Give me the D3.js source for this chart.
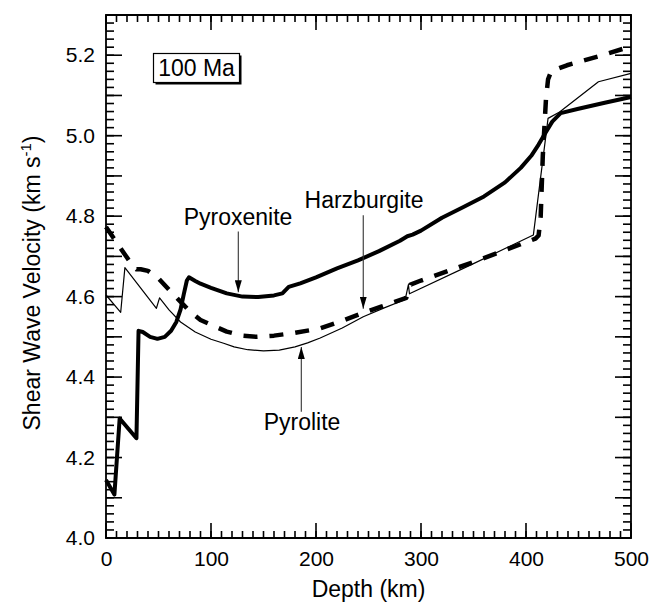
<!DOCTYPE html>
<html>
<head>
<meta charset="utf-8">
<script src="https://cdn.jsdelivr.net/npm/d3@7"></script>
<style>
  body { margin: 0; background: #fff; }
  svg { font-family: "Liberation Sans", Arial, Helvetica, sans-serif; }
</style>
</head>
<body>
<div id="chart"></div>
<script>
const width = 663;
const height = 604;
const margin = {top: 15, right: 32, bottom: 66, left: 106};

// [depth km, Vs km/s]
const pyroxenite = [
  [0, 4.144], [8, 4.108], [13, 4.297], [29, 4.248], [31, 4.515], [35, 4.512],
  [42, 4.500], [49, 4.495], [56, 4.500], [62, 4.515], [67, 4.537], [71, 4.568],
  [74, 4.605], [77, 4.640], [79, 4.648], [85, 4.639], [90, 4.632], [100, 4.622],
  [115, 4.608], [130, 4.600], [145, 4.599], [160, 4.603], [168, 4.608], [174, 4.624],
  [185, 4.633], [200, 4.648], [220, 4.670], [240, 4.690], [260, 4.713], [280, 4.739],
  [287, 4.750], [292, 4.754], [300, 4.764], [320, 4.796], [340, 4.822], [360, 4.849],
  [380, 4.884], [395, 4.920], [405, 4.950], [412, 4.978], [418, 5.005], [425, 5.035],
  [433, 5.056], [450, 5.067], [475, 5.082], [500, 5.096]
];

const harzburgite = [
  [0, 4.773], [10, 4.735], [20, 4.697], [26, 4.675], [29, 4.668], [33, 4.668],
  [40, 4.664], [50, 4.645], [60, 4.617], [70, 4.590], [80, 4.563], [90, 4.542],
  [100, 4.530], [115, 4.513], [130, 4.503], [143, 4.500], [160, 4.503], [180, 4.510],
  [204, 4.521], [225, 4.540], [245, 4.560], [262, 4.575], [275, 4.587], [286, 4.597],
  [290, 4.630], [300, 4.640], [350, 4.686], [409, 4.744], [412, 4.752], [414, 4.800],
  [416, 4.950], [419, 5.090], [421, 5.140], [424, 5.160], [439, 5.175], [470, 5.198],
  [500, 5.222]
];

const pyrolite = [
  [0, 4.604], [14, 4.561], [18, 4.672], [48, 4.571], [51, 4.597], [60, 4.567],
  [71, 4.537], [85, 4.512], [100, 4.494], [112, 4.484], [122, 4.475], [135, 4.468],
  [150, 4.465], [165, 4.467], [180, 4.475], [192, 4.485], [204, 4.497], [225, 4.522],
  [245, 4.550], [265, 4.572], [285, 4.593], [288, 4.630], [289, 4.607], [350, 4.682],
  [407, 4.753], [421, 5.043], [432, 5.059], [469, 5.134], [500, 5.155]
];

const xMajor = [0, 100, 200, 300, 400, 500];
const xMinor = d3.range(0, 501, 10);
const yMajor = d3.range(40, 54).map(d => d / 10);
const yMinor = d3.range(200, 266).map(d => d / 50);

const x = d3.scaleLinear().domain([0, 500]).range([margin.left, width - margin.right]);
const y = d3.scaleLinear().domain([4.0, 5.3]).range([height - margin.bottom, margin.top]);

const svg = d3.select("#chart").append("svg")
  .attr("width", width)
  .attr("height", height);

const defs = svg.append("defs");
defs.append("marker")
  .attr("id", "arrow")
  .attr("viewBox", "0 0 10 10")
  .attr("refX", 10).attr("refY", 5)
  .attr("markerWidth", 12).attr("markerHeight", 7)
  .attr("markerUnits", "userSpaceOnUse")
  .attr("orient", "auto")
  .attr("preserveAspectRatio", "none")
  .append("path")
  .attr("d", "M0,0 L10,5 L0,10 Z")
  .attr("fill", "#000");

const x0 = x(0), x1 = x(500), y0 = y(4.0), y1 = y(5.3);

// frame first, so nothing inside it can be hidden
svg.append("path")
  .attr("d", `M${x0},${y1}H${x1}V${y0}H${x0}Z`)
  .attr("fill", "none").attr("stroke", "#000").attr("stroke-width", 1.8);

// tick marks, inward on all four sides
const tickG = svg.append("g");
function tickLines(vals, len, horiz) {
  const g = tickG.append("g");
  vals.forEach(d => {
    if (horiz) {
      g.append("line").attr("x1", x(d)).attr("x2", x(d)).attr("y1", y0).attr("y2", y0 - len);
      g.append("line").attr("x1", x(d)).attr("x2", x(d)).attr("y1", y1).attr("y2", y1 + len);
    } else {
      g.append("line").attr("x1", x0).attr("x2", x0 + len).attr("y1", y(d)).attr("y2", y(d));
      g.append("line").attr("x1", x1).attr("x2", x1 - len).attr("y1", y(d)).attr("y2", y(d));
    }
  });
  g.selectAll("line").attr("stroke", "#000").attr("stroke-width", 1.6);
}
tickLines(xMinor, 7, true);
tickLines(xMajor, 15, true);
tickLines(yMinor, 8, false);
tickLines(yMajor, 16, false);

// tick labels via the axis generators
function styleAxis(g) {
  g.select(".domain").remove();
  g.selectAll(".tick line").remove();
  g.selectAll("text").attr("font-size", 21).attr("fill", "#000");
}

svg.append("g").attr("transform", `translate(0,${y0})`)
  .call(d3.axisBottom(x).tickValues(xMajor).tickSize(0).tickPadding(13).tickFormat(d3.format("d")))
  .call(styleAxis);

svg.append("g").attr("transform", `translate(${x0},0)`)
  .call(d3.axisLeft(y).tickValues(yMajor.filter(v => Math.round(v * 10) % 2 === 0))
    .tickSize(0).tickPadding(11).tickFormat(d3.format(".1f")))
  .call(styleAxis);

const line = d3.line()
  .x(d => x(d[0]))
  .y(d => y(d[1]));

const plot = svg.append("g").attr("fill", "none").attr("stroke", "#000");

plot.append("path").datum(pyrolite)
  .attr("stroke-width", 1.2)
  .attr("stroke-linejoin", "round")
  .attr("d", line);

plot.append("path").datum(harzburgite)
  .attr("stroke-width", 4.5)
  .attr("stroke-dasharray", "14,12")
  .attr("stroke-linejoin", "round")
  .attr("d", line);

plot.append("path").datum(pyroxenite)
  .attr("stroke-width", 4)
  .attr("stroke-linejoin", "round")
  .attr("d", line);

// labels and arrows
function arrow(d, v0, v1) {
  svg.append("line")
    .attr("x1", x(d)).attr("x2", x(d))
    .attr("y1", y(v0)).attr("y2", y(v1))
    .attr("stroke", "#333").attr("stroke-width", 1.1)
    .attr("marker-end", "url(#arrow)");
}

svg.append("text").attr("x", 238).attr("y", 225)
  .attr("text-anchor", "middle").attr("font-size", 23).text("Pyroxenite");
arrow(126, 4.762, 4.611);

svg.append("text").attr("x", 364).attr("y", 208)
  .attr("text-anchor", "middle").attr("font-size", 23).text("Harzburgite");
arrow(245, 4.802, 4.570);

svg.append("text").attr("x", 302).attr("y", 430)
  .attr("text-anchor", "middle").attr("font-size", 23).text("Pyrolite");
arrow(186, 4.314, 4.475);

// age box with drop shadow
svg.append("rect").attr("x", 155.5).attr("y", 55.5).attr("width", 86).attr("height", 29)
  .attr("fill", "#000");
svg.append("rect").attr("x", 153.5).attr("y", 53.5).attr("width", 86).attr("height", 29)
  .attr("fill", "#fff").attr("stroke", "#000").attr("stroke-width", 1.2);
svg.append("text").attr("x", 196.5).attr("y", 76)
  .attr("text-anchor", "middle").attr("font-size", 23).text("100 Ma");

// axis titles
svg.append("text")
  .attr("x", (x0 + x1) / 2).attr("y", 597)
  .attr("text-anchor", "middle").attr("font-size", 23)
  .text("Depth (km)");

const yt = svg.append("text")
  .attr("transform", "translate(40,283) rotate(-90)")
  .attr("text-anchor", "middle").attr("font-size", 23);
yt.append("tspan").text("Shear Wave Velocity (km s");
yt.append("tspan").attr("dy", -9).attr("font-size", 15).text("-1");
yt.append("tspan").attr("dy", 9).text(")");
</script>
</body>
</html>
